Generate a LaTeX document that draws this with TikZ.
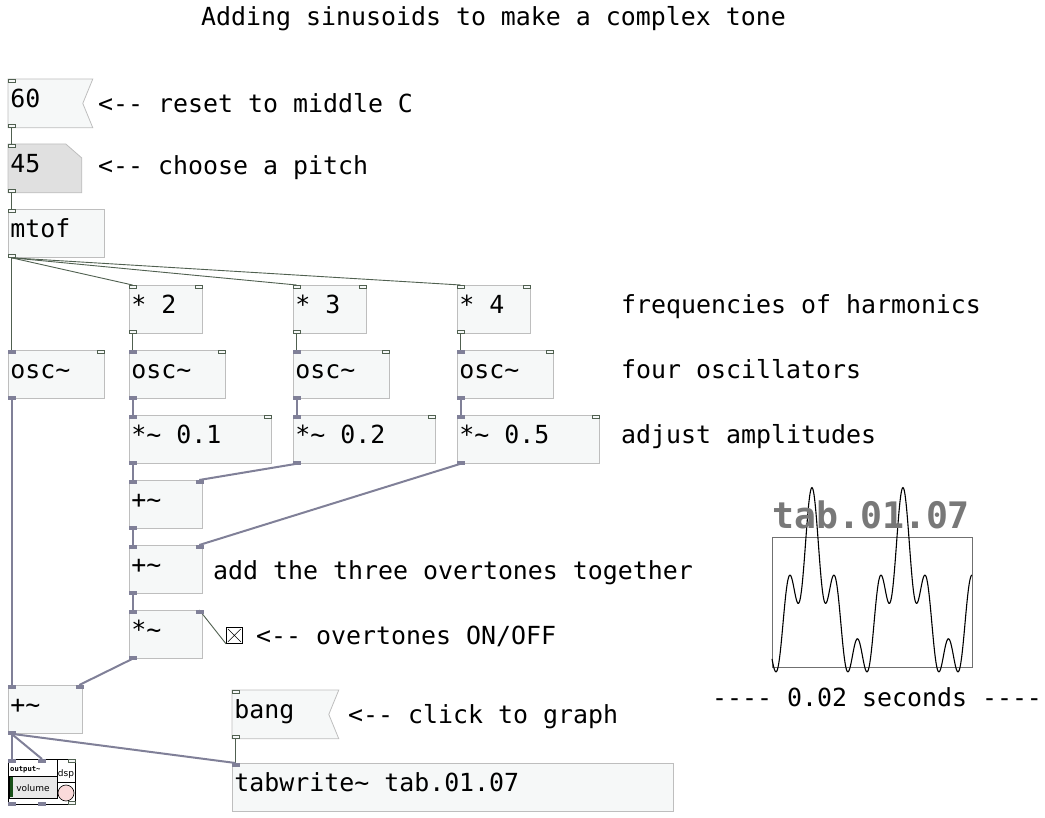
\documentclass[tikz,border=0pt]{standalone}
\usepackage{fontspec}
\usetikzlibrary{backgrounds}
\newfontfamily\pdfont{DejaVu Sans Mono}
\newfontfamily\pdsans{DejaVu Sans}
\newcommand{\pdtext}{\pdfont\fontsize{24.9}{30}\selectfont}
\newcommand{\dsh}{-\kern0pt}
\definecolor{boxfill}{RGB}{246,248,248}
\definecolor{boxline}{RGB}{190,190,190}
\definecolor{numfill}{RGB}{224,224,224}
\definecolor{ctlwire}{RGB}{80,96,80}
\definecolor{sigwire}{RGB}{128,128,152}
\definecolor{graphline}{RGB}{112,112,112}
\definecolor{tabgray}{RGB}{120,120,120}
\definecolor{volfill}{RGB}{232,232,232}
\definecolor{volbar}{RGB}{24,80,24}
\definecolor{dspfill}{RGB}{250,218,218}
\newcommand{\inlet}[2]{\filldraw[#1] (#2) rectangle ++(7,3);}
\newcommand{\outlet}[2]{\filldraw[#1] (#2) rectangle ++(7,-3);}
\tikzset{
  pdbox/.style={anchor=north west, draw=boxline, fill=boxfill, line width=0.8pt,
    inner xsep=2pt, inner ysep=0pt, text height=28pt, text depth=20pt,
    align=flush left, font=\pdtext},
  cmt/.style={anchor=base west, inner sep=0pt, font=\pdtext},
  ctl/.style={draw=ctlwire, line width=0.9pt},
  sig/.style={draw=sigwire, line width=2pt},
  ctlport/.style={draw=ctlwire, fill=boxfill, line width=0.7pt},
  sigport/.style={draw=sigwire, fill=sigwire, line width=0.5pt}
}
\begin{document}
\begin{tikzpicture}[x=1pt,y=-1pt]
\useasboundingbox (0,0) rectangle (1045,818);

\node[cmt] (title) at (201,26) {Adding sinusoids to make a complex tone};

% pitch
\node[pdbox, draw=none, fill=none, text width=80pt] (msg60) at (8,79) {60};
\node[pdbox, draw=none, fill=none, text width=69pt] (num45) at (8,144) {45};
\node[pdbox, text width=92pt] (mtof) at (8,209) {mtof};
\node[cmt] (reset) at (98,113) {<\dsh- reset to middle C};
\node[cmt] (choose) at (98,175) {<\dsh- choose a pitch};

% harmonics
\node[pdbox, text width=69pt] (mul2) at (129,285) {* 2};
\node[pdbox, text width=69pt] (mul3) at (293,285) {* 3};
\node[pdbox, text width=69pt] (mul4) at (457,285) {* 4};
\node[pdbox, text width=92pt] (osc1) at (8,350) {osc\textasciitilde};
\node[pdbox, text width=92pt] (osc2) at (129,350) {osc\textasciitilde};
\node[pdbox, text width=92pt] (osc3) at (293,350) {osc\textasciitilde};
\node[pdbox, text width=92pt] (osc4) at (457,350) {osc\textasciitilde};
\node[pdbox, text width=138pt] (amp1) at (129,415) {*\textasciitilde{} 0.1};
\node[pdbox, text width=138pt] (amp2) at (293,415) {*\textasciitilde{} 0.2};
\node[pdbox, text width=138pt] (amp3) at (457,415) {*\textasciitilde{} 0.5};
\node[cmt] (freqs) at (621,314) {frequencies of harmonics};
\node[cmt] (fourosc) at (621,379) {four oscillators};
\node[cmt] (adjust) at (621,443) {adjust amplitudes};

% mixing
\node[pdbox, text width=69pt] (add1) at (129,480) {+\textasciitilde};
\node[pdbox, text width=69pt] (add2) at (129,545) {+\textasciitilde};
\node[pdbox, text width=69pt] (gate) at (129,610) {*\textasciitilde};
\node[draw=black, line width=0.8pt, fill=white, anchor=north west, minimum size=16pt, inner sep=0pt] (tgl) at (226,627) {};
\draw[line width=0.6pt] ([shift={(2pt,-2pt)}]tgl.north west) -- ([shift={(-2pt,2pt)}]tgl.south east)
  ([shift={(-2pt,-2pt)}]tgl.north east) -- ([shift={(2pt,2pt)}]tgl.south west);
\node[cmt] (together) at (213,579) {add the three overtones together};
\node[cmt] (onoff) at (256,644) {<\dsh- overtones ON/OFF};
\node[pdbox, text width=70pt] (sum) at (8,685) {+\textasciitilde};

% output~
\node[draw=black, fill=white, line width=0.8pt, anchor=north west, minimum width=67pt, minimum height=45pt, inner sep=0pt] (out) at (8,759) {};
\draw[line width=0.6pt] (57,759) rectangle (75,782);
\filldraw[fill=volfill, line width=0.6pt] (9,776) rectangle (57,798);
\fill[volbar] (10,777) rectangle (13,797);
\filldraw[fill=dspfill, line width=0.6pt] (66,793) circle (8);
\node[anchor=base west, inner sep=0pt, font=\pdfont\bfseries\fontsize{7.2}{8}\selectfont] (outlbl) at (10,771) {output\textasciitilde};
\node[anchor=base, inner sep=0pt, font=\pdsans\fontsize{9}{10}\selectfont] (vollbl) at (33,791) {volume};
\node[anchor=base, inner sep=0pt, font=\pdsans\fontsize{9}{10}\selectfont] (dsplbl) at (66,776) {dsp};

% table writing
\node[pdbox, draw=none, fill=none, text width=102pt] (bang) at (232,690) {bang};
\node[cmt] (click) at (348,723) {<\dsh- click to graph};
\node[pdbox, text width=437pt] (tabw) at (232,763) {tabwrite\textasciitilde{} tab.01.07};

% graph
\node[draw=graphline, line width=0.9pt, anchor=north west, minimum width=200pt, minimum height=130pt, inner sep=0pt] (graph) at (772,537) {};
\draw[black, line width=1.1pt] plot[domain=0:200, samples=401, variable=\t]
  ({772+\t}, {601-63*(cos(-158+3.956*\t)+0.1*cos(2*(-158+3.956*\t))+0.2*cos(3*(-158+3.956*\t))+0.5*cos(4*(-158+3.956*\t)))});
\node[anchor=base west, inner sep=0pt, text=tabgray, font=\pdfont\bfseries\fontsize{36.5}{40}\selectfont] (tablbl) at (772,528) {tab.01.07};
\node[cmt] (secs) at (712,706) {\dsh\dsh\dsh- 0.02 seconds \dsh\dsh\dsh-};

\begin{pgfonlayer}{background}
\filldraw[draw=boxline, fill=boxfill, line width=0.8pt] (msg60.north west) -- (msg60.north east)
  -- ([xshift=-10pt]msg60.east) -- (msg60.south east) -- (msg60.south west) -- cycle;
\filldraw[draw=boxline, fill=numfill, line width=0.8pt] (num45.north west) -- ([xshift=-16pt]num45.north east)
  -- ([yshift=-14pt]num45.north east) -- (num45.south east) -- (num45.south west) -- cycle;
\filldraw[draw=boxline, fill=boxfill, line width=0.8pt] (bang.north west) -- (bang.north east)
  -- ([xshift=-10pt]bang.east) -- (bang.south east) -- (bang.south west) -- cycle;
\end{pgfonlayer}

% control wires
\draw[ctl] ([xshift=3.5pt]msg60.south west) -- ([xshift=3.5pt]num45.north west);
\draw[ctl] ([xshift=3.5pt]num45.south west) -- ([xshift=3.5pt]mtof.north west);
\foreach \b in {osc1,mul2,mul3,mul4}
  \draw[ctl] ([xshift=3.5pt]mtof.south west) -- ([xshift=3.5pt]\b.north west);
\draw[ctl] ([xshift=3.5pt]mul2.south west) -- ([xshift=3.5pt]osc2.north west);
\draw[ctl] ([xshift=3.5pt]mul3.south west) -- ([xshift=3.5pt]osc3.north west);
\draw[ctl] ([xshift=3.5pt]mul4.south west) -- ([xshift=3.5pt]osc4.north west);
\draw[ctl] (tgl.south west) -- ([xshift=-3.5pt]gate.north east);
\draw[ctl] ([xshift=3.5pt]bang.south west) -- ([xshift=3.5pt]tabw.north west);

% signal wires
\draw[sig] ([xshift=3.5pt]osc2.south west) -- ([xshift=3.5pt]amp1.north west);
\draw[sig] ([xshift=3.5pt]osc3.south west) -- ([xshift=3.5pt]amp2.north west);
\draw[sig] ([xshift=3.5pt]osc4.south west) -- ([xshift=3.5pt]amp3.north west);
\draw[sig] ([xshift=3.5pt]amp1.south west) -- ([xshift=3.5pt]add1.north west);
\draw[sig] ([xshift=3.5pt]amp2.south west) -- ([xshift=-3.5pt]add1.north east);
\draw[sig] ([xshift=3.5pt]amp3.south west) -- ([xshift=-3.5pt]add2.north east);
\draw[sig] ([xshift=3.5pt]add1.south west) -- ([xshift=3.5pt]add2.north west);
\draw[sig] ([xshift=3.5pt]add2.south west) -- ([xshift=3.5pt]gate.north west);
\draw[sig] ([xshift=3.5pt]gate.south west) -- ([xshift=-3.5pt]sum.north east);
\draw[sig] ([xshift=3.5pt]osc1.south west) -- ([xshift=3.5pt]sum.north west);
\draw[sig] ([xshift=3.5pt]sum.south west) -- ([xshift=3.5pt]out.north west);
\draw[sig] ([xshift=3.5pt]sum.south west) -- ([xshift=34pt]out.north west);
\draw[sig] ([xshift=3.5pt]sum.south west) -- ([xshift=3.5pt]tabw.north west);

% inlets and outlets
\foreach \b in {msg60,num45,mtof,mul2,mul3,mul4,bang} {
  \inlet{ctlport}{\b.north west}
  \outlet{ctlport}{\b.south west}
}
\foreach \b in {mul2,mul3,mul4,osc1,osc2,osc3,osc4,amp1,amp2,amp3} {
  \inlet{ctlport}{[xshift=-7pt]\b.north east}
}
\foreach \b in {osc1,osc2,osc3,osc4,amp1,amp2,amp3,add1,add2,gate,sum} {
  \inlet{sigport}{\b.north west}
  \outlet{sigport}{\b.south west}
}
\foreach \b in {add1,add2,gate,sum} {
  \inlet{sigport}{[xshift=-7pt]\b.north east}
}
\inlet{sigport}{tabw.north west}
\inlet{sigport}{out.north west}
\inlet{sigport}{[xshift=30pt]out.north west}
\inlet{ctlport}{[xshift=-7pt]out.north east}
\outlet{sigport}{out.south west}
\outlet{sigport}{[xshift=30pt]out.south west}
\outlet{ctlport}{[xshift=-7pt]out.south east}
\end{tikzpicture}
\end{document}
